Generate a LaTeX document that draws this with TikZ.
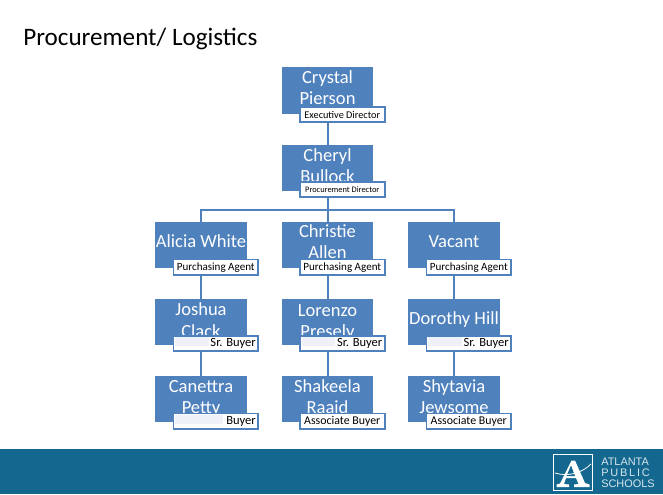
\documentclass[tikz,border=0pt]{standalone}
\usepackage{fontspec}
\setmainfont{Carlito}
\newfontfamily\logofont{Liberation Sans}
\definecolor{boxblue}{HTML}{4F81BD}
\definecolor{footerblue}{HTML}{14688F}
\definecolor{logotext}{HTML}{D8E6EC}
\definecolor{hilite}{HTML}{EEF1F8}
\tikzset{
  namebox/.style={fill=boxblue,draw=none,inner sep=0pt,minimum width=68.5pt,minimum height=34.8pt},
  nametext/.style={text=white,inner sep=0pt,align=center,font=\fontsize{13.9}{15.9}\selectfont,execute at begin node=\strut,execute at end node=\strut},
  rolebox/.style={fill=white,draw=boxblue,line width=1.4pt,inner sep=0pt,minimum width=63.5pt,minimum height=11.6pt,anchor=north west,font=\fontsize{8.3}{9}\selectfont,text=black},
  conn/.style={draw=boxblue,line width=1.5pt},
  hibar/.style={fill=hilite,draw=none}
}
\begin{document}
\begin{tikzpicture}[x=0.75pt,y=-0.75pt]
\useasboundingbox (0,0) rectangle (663,494);
\fill[white] (0,0) rectangle (663,494);
\fill[footerblue] (0,449) rectangle (663,494);
\node[anchor=west,inner sep=0pt,font=\fontsize{18.85}{22}\selectfont] (title) at (23,38.5) {Procurement/ Logistics};

% boxes
\foreach \nm/\x/\y in {crystal/327.5/90.5,cheryl/327.5/168,alicia/201/245,christie/327.5/245,vacant/454/245,joshua/201/322,lorenzo/327.5/322,dorothy/454/322,canettra/201/399,shakeela/327.5/399,shytavia/454/399}
  \node[namebox] (\nm) at (\x,\y) {};

% connectors
\coordinate (bus) at (327.5,210);
\draw[conn] (crystal) -- (cheryl);
\draw[conn] (cheryl) |- (bus) -| (alicia.north);
\draw[conn] (bus) -| (vacant.north);
\draw[conn] (bus) -- (christie.north);
\draw[conn] (alicia) -- (joshua);
\draw[conn] (joshua) -- (canettra);
\draw[conn] (christie) -- (lorenzo);
\draw[conn] (lorenzo) -- (shakeela);
\draw[conn] (vacant) -- (dorothy);
\draw[conn] (dorothy) -- (shytavia);

% boxes over connectors
\foreach \nm in {crystal,cheryl,alicia,christie,vacant,joshua,lorenzo,dorothy,canettra,shakeela,shytavia}
  \node[namebox] at (\nm) {};

% names
\node[nametext] (crystalT) at ([yshift=0pt]crystal) {Crystal\\Pierson};
\node[nametext] (cherylT) at ([yshift=-0.4pt]cheryl) {Cheryl\\Bullock};
\node[nametext] (aliciaT) at ([yshift=1.3pt]alicia) {Alicia White};
\node[nametext] (christieT) at ([yshift=0pt]christie) {Christie\\Allen};
\node[nametext] (vacantT) at ([yshift=1.3pt]vacant) {Vacant};
\node[nametext] (joshuaT) at ([yshift=-1pt]joshua) {Joshua\\Clack};
\node[nametext] (lorenzoT) at ([yshift=-1.7pt]lorenzo) {Lorenzo\\Presely};
\node[nametext] (dorothyT) at ([yshift=1.3pt]dorothy) {Dorothy Hill};
\node[nametext] (canettraT) at ([yshift=-0.8pt]canettra) {Canettra\\Petty};
\node[nametext] (shakeelaT) at ([yshift=-0.8pt]shakeela) {Shakeela\\Raaid};
\node[nametext] (shytaviaT) at ([yshift=-0.8pt]shytavia) {Shytavia\\Jewsome};

% role labels
\node[rolebox,font=\fontsize{7.7}{9}\selectfont] (r1) at (299,106) {Executive Director};
\node[rolebox,font=\fontsize{6.3}{8}\selectfont] (r2) at (299,181) {Procurement Director};
\node[rolebox] (r3) at (172.5,258.5) {Purchasing Agent};
\node[rolebox] (r4) at (299,258.5) {Purchasing Agent};
\node[rolebox] (r5) at (425.5,258.5) {Purchasing Agent};
\foreach \n/\x/\y/\t/\w in {r6/172.5/335/Sr. Buyer/36,r7/299/335/Sr. Buyer/36,r8/425.5/335/Sr. Buyer/36,r9/172.5/412.5/Buyer/50}{
  \node[rolebox] (\n) at (\x,\y) {};
  \fill[hibar] (\x+2.5,\y+2) rectangle (\x+\w,\y+11);
  \node[anchor=east,inner sep=0pt,font=\fontsize{9.4}{10}\selectfont] (\n T) at ([xshift=-2.2pt]\n.east) {\t};
}
\node[rolebox,font=\fontsize{8.9}{10}\selectfont] (r10) at (299,412.5) {Associate Buyer};
\node[rolebox,font=\fontsize{8.9}{10}\selectfont] (r11) at (425.5,412.5) {Associate Buyer};

% logo
\node[draw=white,line width=0.8pt,inner sep=0pt,minimum width=29.5pt,minimum height=26.5pt,fill=footerblue] (logo) at (573,472.5) {};
\fill[white] (571.5,460.5) -- (575,460.5) -- (585,483) -- (589.5,484.5) -- (589.5,487) -- (574,487) -- (574,484.5) -- (578.5,484) -- (576,478) -- (566,478) -- (564,484) -- (569,484.5) -- (569,487) -- (556.5,487) -- (556.5,484.5) -- (560,483.5) -- cycle;
\fill[footerblue] (571,465.5) -- (566.5,476) -- (575,476) -- cycle;
\draw[white,line width=0.6pt] (555,473) .. controls (568,477) and (582,473) .. (591,464);
\node[anchor=west,inner sep=0pt,text=logotext,font=\logofont\fontsize{8.2}{9}\selectfont] (l1) at (601,461.5) {ATLANTA};
\node[anchor=west,inner sep=0pt,text=logotext,font=\logofont\fontsize{8.2}{9}\selectfont] (l2) at (601,472.5) {P\,U\,B\,L\,I\,C};
\node[anchor=west,inner sep=0pt,text=logotext,font=\logofont\fontsize{8.2}{9}\selectfont] (l3) at (601,484) {SCHOOLS};
\end{tikzpicture}
\end{document}
